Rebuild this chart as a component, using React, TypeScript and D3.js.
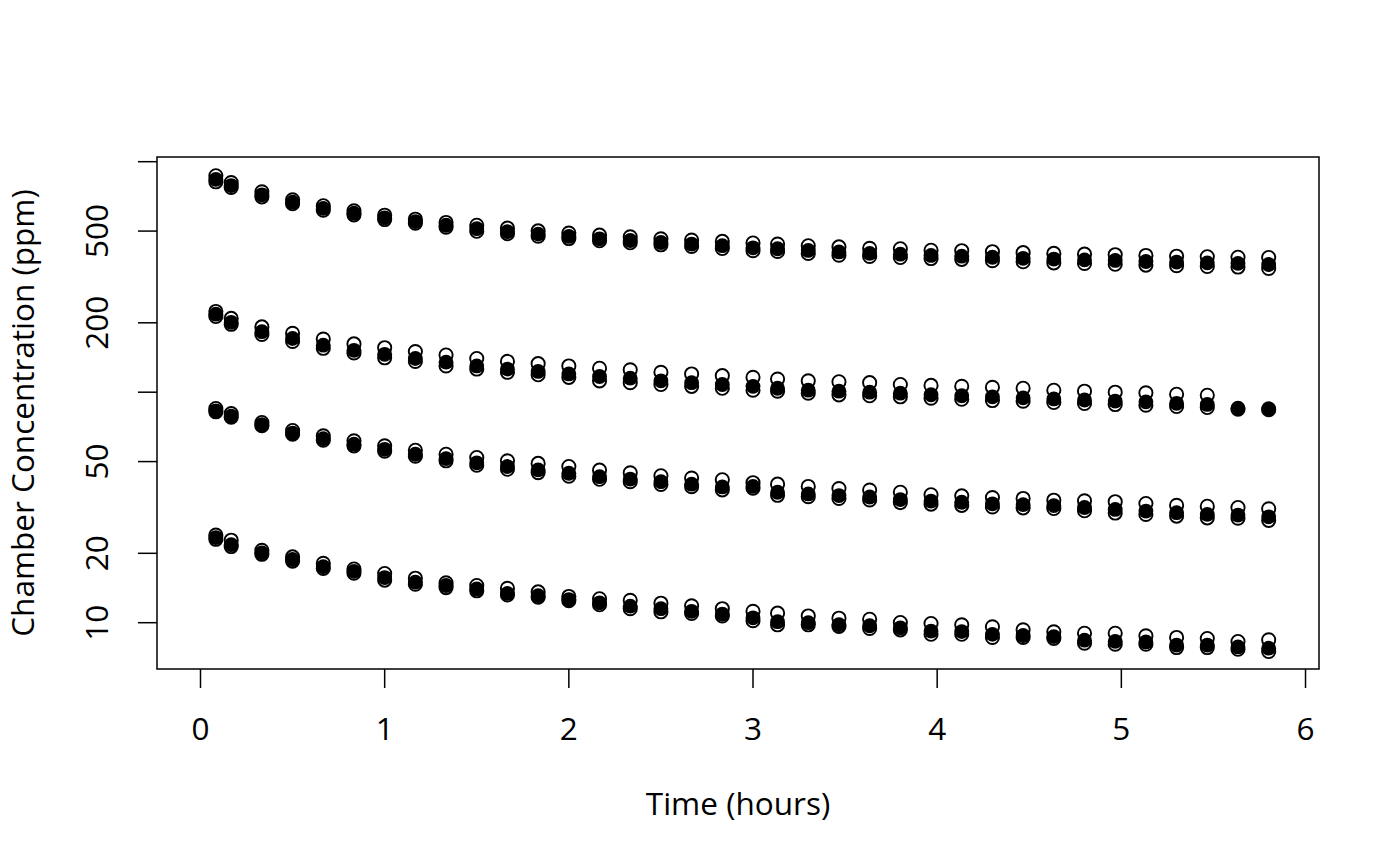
import * as d3 from "d3";

// sampling times (minutes after start)
const minutes = [5, 10, 20, 30, 40, 50, 60, 70, 80, 90, 100, 110, 120, 130, 140, 150, 160, 170, 180,
  188, 198, 208, 218, 228, 238, 248, 258, 268, 278, 288, 298, 308, 318, 328, 338, 348];

// chamber 1 (ppm)
const c1Hi = [869, 812, 740, 683, 644, 612, 586, 563, 545, 530, 515, 501, 490, 480, 472, 463, 457, 451, 444,
  439, 432, 427, 421, 419, 413, 411, 407, 403, 400, 397, 395, 392, 389, 387, 385, 384];
const c1Mid = [838, 788, 718, 667, 627, 598, 571, 550, 530, 512, 497, 485, 474, 463, 455, 446, 439, 432, 423,
  419, 412, 406, 400, 397, 392, 389, 385, 381, 378, 375, 373, 369, 367, 364, 362, 358];
const c1Lo = [818, 773, 704, 657, 616, 588, 561, 541, 520, 499, 487, 475, 464, 454, 445, 436, 429, 420, 411,
  408, 400, 393, 388, 384, 380, 377, 372, 368, 364, 362, 359, 356, 354, 351, 349, 344];

// chamber 2
const c2Hi = [224, 209, 192, 180, 170, 162, 156, 150, 145, 140, 136, 133, 130, 127, 125, 122, 120, 118, 116,
  114, 112, 111, 110, 108, 107, 106, 105, 104, 102, 101, 100, 99.4, 98.0, 97.0, null, null];
const c2Mid = [218, 201, 183, 171, 160, 152, 146, 140, 135, 130, 126, 123, 120, 117, 115, 112, 110, 108, 106,
  104, 102, 101, 100, 99, 97.5, 96.5, 95.5, 94.5, 93.5, 92.5, 91.5, 90.8, 89.5, 88.5, 85.3, 84.8];
const c2Lo = [213, 197, 178, 166, 155, 148, 141, 136, 130, 126, 122, 119, 116, 112, 110, 108, 106, 104, 102,
  101, 99, 97.4, 96.5, 95.5, 94.2, 93.2, 92.0, 91.4, 90.2, 89.3, 88.4, 87.8, 86.7, 85.8, 84.4, 83.9];

// chamber 3
const c3Hi = [85.0, 80.8, 73.9, 68.2, 64.7, 61.5, 58.5, 56.0, 53.8, 52.1, 50.4, 49.1, 47.6, 45.9, 44.7, 43.4, 42.4, 41.7, 40.5,
  39.9, 39.0, 38.2, 37.6, 36.8, 35.9, 35.5, 34.9, 34.6, 34.0, 33.8, 33.5, 32.9, 32.3, 32.0, 31.6, 31.2];
const c3Mid = [83.0, 78.8, 72.3, 66.5, 62.8, 59.5, 56.5, 53.8, 51.5, 49.4, 47.6, 46.0, 44.5, 43.0, 42.0, 40.9, 39.9, 38.8, 39.0,
  36.8, 36.2, 35.6, 35.1, 34.2, 33.7, 33.3, 32.8, 32.5, 32.2, 31.6, 31.0, 30.5, 30.0, 29.5, 29.3, 28.8];
const c3Lo = [82.2, 77.9, 71.5, 65.7, 61.9, 58.5, 55.5, 52.8, 50.4, 48.2, 46.3, 44.8, 43.2, 41.9, 40.9, 39.8, 38.9, 37.7, 38.3,
  35.7, 35.2, 34.6, 34.1, 33.2, 32.7, 32.3, 31.8, 31.5, 31.3, 30.6, 29.9, 29.5, 29.0, 28.5, 28.4, 27.8];

// chamber 4
const c4Hi = [24.0, 22.8, 20.6, 19.3, 18.1, 17.1, 16.35, 15.6, 14.9, 14.5, 14.1, 13.6, 13.0, 12.7, 12.5, 12.15, 11.84, 11.5, 11.2,
  11.0, 10.7, 10.46, 10.35, 10.02, 9.92, 9.79, 9.60, 9.31, 9.13, 9.00, 9.00, 8.77, 8.63, 8.54, 8.29, 8.43];
const c4Mid = [23.4, 21.8, 20.1, 18.8, 17.5, 16.7, 15.7, 15.0, 14.5, 14.0, 13.4, 13.1, 12.6, 12.2, 11.8, 11.5, 11.2, 10.9, 10.5,
  10.1, 10.0, 9.8, 9.7, 9.5, 9.2, 9.15, 8.9, 8.8, 8.7, 8.4, 8.3, 8.25, 8.0, 8.0, 7.85, 7.75];
const c4Lo = [23.0, 21.4, 19.8, 18.5, 17.2, 16.4, 15.3, 14.7, 14.2, 13.75, 13.2, 12.9, 12.45, 11.96, 11.5, 11.15, 10.96, 10.7, 10.2,
  9.79, 9.79, 9.63, 9.44, 9.31, 8.91, 8.91, 8.63, 8.63, 8.54, 8.15, 8.07, 8.07, 7.80, 7.80, 7.67, 7.50];

const xTicks = [0, 1, 2, 3, 4, 5, 6];
const yTicks = [10, 20, 50, 100, 200, 500, 1000];
const yTickLabels = ["10", "20", "50", "", "200", "500", ""];

const filledSeries = [c1Mid, c2Mid, c3Mid, c4Mid];
const openSeries = [c1Hi, c1Lo, c2Hi, c2Lo, c3Hi, c3Lo, c4Hi, c4Lo];

export default function App() {
  const W = 1400;
  const H = 866;
  const box = { left: 157, right: 1319, top: 157, bottom: 669 };
  const font = "'Open Sans', 'DejaVu Sans', sans-serif";
  const fs = 31.5;

  const x = d3.scaleLinear().domain([-0.2362, 6.0732]).range([box.left, box.right]);
  const y = d3.scaleLog().domain([6.297, 1048]).range([box.bottom, box.top]);

  const pts = (vals: (number | null)[]) =>
    vals
      .map((v, i) => ({ t: minutes[i] / 60, v }))
      .filter((d) => d.v !== null) as { t: number; v: number }[];

  return (
    <svg width={W} height={H} style={{ position: "absolute", left: 0, top: 0, background: "#fff" }}>
      <rect x={0} y={0} width={W} height={H} fill="#fff" />

      {/* points */}
      {filledSeries.map((s, si) => (
        <g key={"f" + si}>
          {pts(s).map((d, i) => (
            <circle key={i} cx={x(d.t)} cy={y(d.v)} r={7.4} fill="#000" />
          ))}
        </g>
      ))}
      {openSeries.map((s, si) => (
        <g key={"o" + si}>
          {pts(s).map((d, i) => (
            <circle key={i} cx={x(d.t)} cy={y(d.v)} r={6.6} fill="none" stroke="#000" strokeWidth={1.9} />
          ))}
        </g>
      ))}

      {/* box */}
      <rect x={box.left} y={box.top} width={box.right - box.left} height={box.bottom - box.top}
        fill="none" stroke="#000" strokeWidth={1.5} />

      {/* x axis */}
      {xTicks.map((t) => (
        <g key={t}>
          <line x1={x(t)} x2={x(t)} y1={box.bottom} y2={box.bottom + 19} stroke="#000" strokeWidth={1.5} />
          <text x={x(t)} y={740} textAnchor="middle" fontFamily={font} fontSize={fs}>{t}</text>
        </g>
      ))}

      {/* y axis */}
      {yTicks.map((v, i) => (
        <g key={v}>
          <line x1={box.left - 19} x2={box.left} y1={y(v)} y2={y(v)} stroke="#000" strokeWidth={1.5} />
          {yTickLabels[i] && (
            <text transform={`translate(108,${y(v)}) rotate(-90)`} textAnchor="middle"
              fontFamily={font} fontSize={fs}>{yTickLabels[i]}</text>
          )}
        </g>
      ))}

      {/* titles */}
      <text x={(box.left + box.right) / 2} y={815} textAnchor="middle" fontFamily={font} fontSize={fs}>
        Time (hours)
      </text>
      <text transform={`translate(34,${(box.top + box.bottom) / 2}) rotate(-90)`} textAnchor="middle"
        fontFamily={font} fontSize={fs}>
        Chamber Concentration (ppm)
      </text>
    </svg>
  );
}
